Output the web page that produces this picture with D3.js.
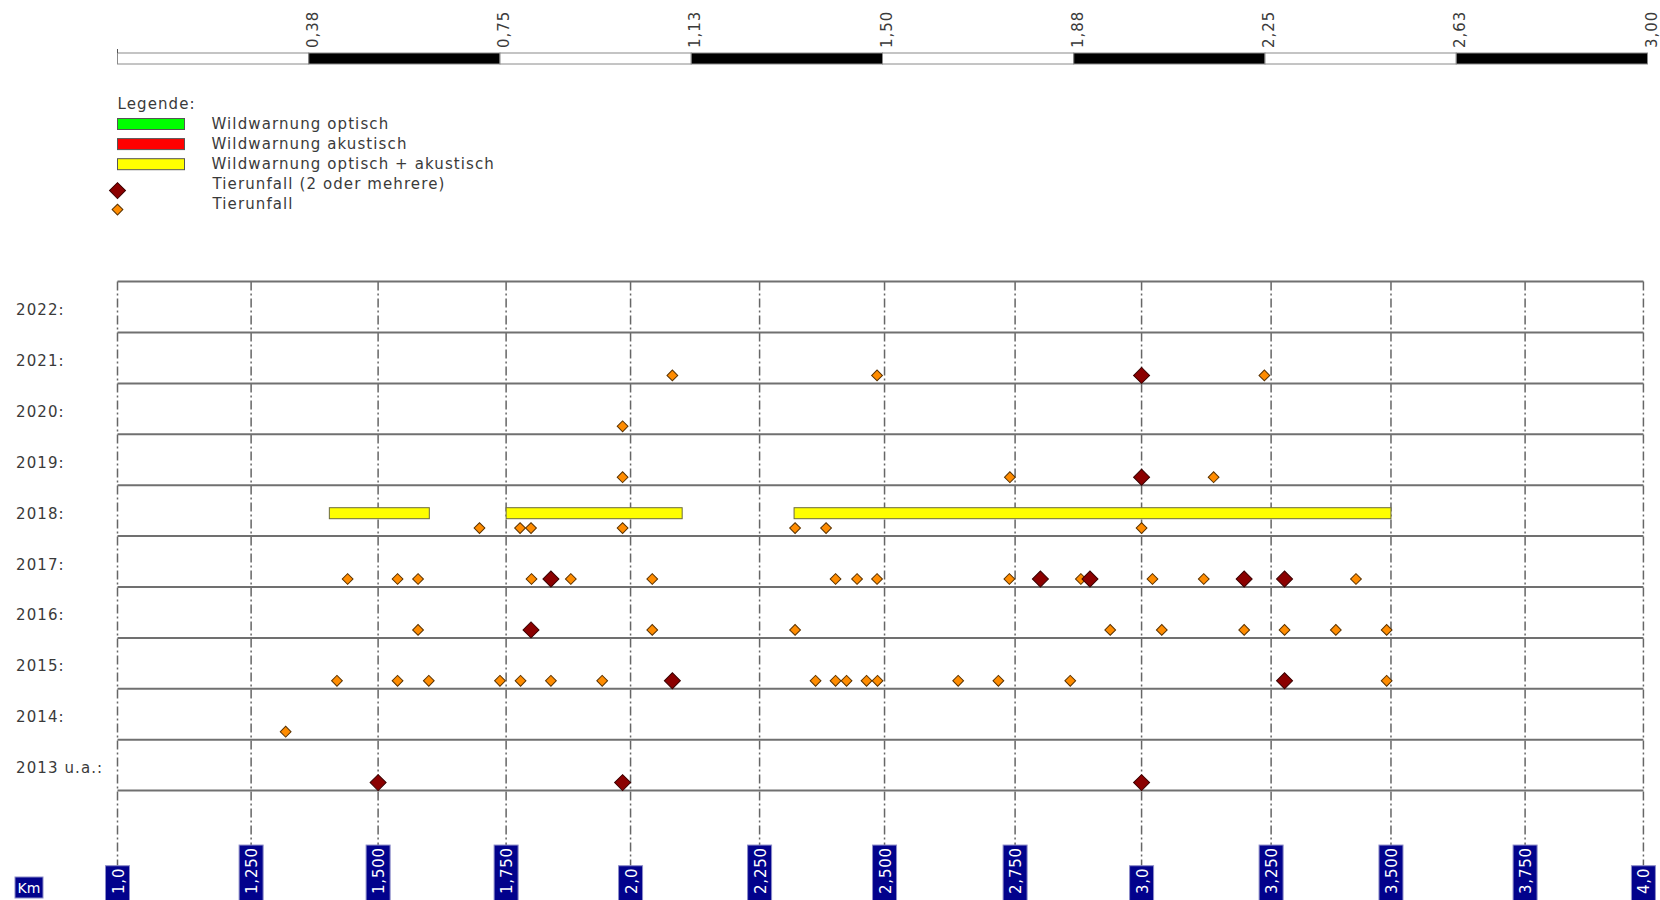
<!DOCTYPE html>
<html>
<head>
<meta charset="utf-8">
<script src="https://cdn.jsdelivr.net/npm/d3@7"></script>
<style>
body { margin: 0; background: #fff; }
svg { display: block; font-family: "DejaVu Sans", Verdana, sans-serif; }
</style>
</head>
<body>
<svg id="chart" width="1660" height="900"></svg>
<script>
// rows (years), top = newest
var years = ["2022", "2021", "2020", "2019", "2018", "2017", "2016", "2015", "2014", "2013 u.a."];

// road km markers and their true distance from the start (km)
var stationKm = [1.0, 1.25, 1.5, 1.75, 2.0, 2.25, 2.5, 2.75, 3.0, 3.25, 3.5, 3.75, 4.0];
var stationDist = [0, 0.262, 0.511, 0.762, 1.006, 1.259, 1.504, 1.760, 2.008, 2.262, 2.497, 2.760, 2.992];
var stationLabels = ["1,0", "1,250", "1,500", "1,750", "2,0", "2,250", "2,500", "2,750", "3,0", "3,250", "3,500", "3,750", "4,0"];

// top scale bar (true distance)
var barTicks = [0, 0.375, 0.75, 1.125, 1.5, 1.875, 2.25, 2.625, 3.0];
var barLabels = ["", "0,38", "0,75", "1,13", "1,50", "1,88", "2,25", "2,63", "3,00"];

// legend
var legendLabels = ["Wildwarnung optisch", "Wildwarnung akustisch", "Wildwarnung optisch + akustisch"];
var legendColors = ["#00ff00", "#ff0000", "#ffff00"];

// warning segments [year, from km, to km, kind]
var warnings = [
	["2018", 1.404, 1.600, 2],
	["2018", 1.750, 2.100, 2],
	["2018", 2.319, 3.500, 2]
];

// single accidents [year, km]
var tierunfall = [
	["2021", 2.081], ["2021", 2.485], ["2021", 3.237],
	["2020", 1.984],
	["2019", 1.984], ["2019", 2.740], ["2019", 3.139],
	["2018", 1.698], ["2018", 1.778], ["2018", 1.800], ["2018", 1.984], ["2018", 2.321], ["2018", 2.383], ["2018", 3.0],
	["2017", 1.440], ["2017", 1.538], ["2017", 1.578], ["2017", 1.801], ["2017", 1.880], ["2017", 2.042], ["2017", 2.402],
	["2017", 2.445], ["2017", 2.485], ["2017", 2.739], ["2017", 2.880], ["2017", 3.021], ["2017", 3.120], ["2017", 3.427],
	["2016", 1.578], ["2016", 2.042], ["2016", 2.321], ["2016", 2.938], ["2016", 3.039], ["2016", 3.198], ["2016", 3.278],
	["2016", 3.385], ["2016", 3.491],
	["2015", 1.419], ["2015", 1.538], ["2015", 1.599], ["2015", 1.738], ["2015", 1.779], ["2015", 1.840], ["2015", 1.943],
	["2015", 2.362], ["2015", 2.402], ["2015", 2.424], ["2015", 2.464], ["2015", 2.486], ["2015", 2.641], ["2015", 2.718],
	["2015", 2.859], ["2015", 3.491],
	["2014", 1.318]
];

// accidents with 2 or more animals [year, km]
var tierunfallMulti = [
	["2021", 3.0],
	["2019", 3.0],
	["2017", 1.840], ["2017", 2.800], ["2017", 2.898], ["2017", 3.198], ["2017", 3.278],
	["2016", 1.800],
	["2015", 2.081], ["2015", 3.278],
	["2013 u.a.", 1.5], ["2013 u.a.", 1.984], ["2013 u.a.", 3.0]
];

var svg = d3.select("#chart");
var textColor = "#3a3a3a";
var gridColor = "#707070";

var dist = d3.scaleLinear().domain([0, 3]).range([117.5, 1647.5]);
// road km -> pixel, through the marker positions
var x = d3.scaleLinear().domain(stationKm).range(stationDist.map(dist));
var y = d3.scaleBand().domain(years).range([281.6, 790.6]);
var gridTop = y.range()[0];

// ---- scale bar
var bar = svg.append("g");
for (var i = 0; i < barTicks.length - 1; i++) {
	bar.append("rect")
		.attr("x", dist(barTicks[i]))
		.attr("y", 53)
		.attr("width", dist(barTicks[i + 1]) - dist(barTicks[i]))
		.attr("height", 11)
		.attr("fill", i % 2 == 0 ? "#fff" : "#000")
		.attr("stroke", "#8a8a8a")
		.attr("stroke-width", 1);
}
bar.append("line")
	.attr("x1", dist(0)).attr("x2", dist(0))
	.attr("y1", 49).attr("y2", 53)
	.attr("stroke", "#555");
bar.selectAll("text.bl")
	.data(barTicks)
	.enter().append("text")
	.attr("class", "bl")
	.attr("transform", function (d) { return "translate(" + (dist(d) + 9) + ",48) rotate(-90)"; })
	.attr("font-size", 15)
	.attr("letter-spacing", 1)
	.attr("fill", textColor)
	.text(function (d, i) { return barLabels[i]; });

// ---- legend
var legend = svg.append("g").attr("fill", textColor).attr("font-size", 15).attr("letter-spacing", 1.1);
legend.append("text").attr("x", 117.5).attr("y", 109).text("Legende:");
legendLabels.forEach(function (label, i) {
	var cy = 124 + i * 20.1;
	legend.append("rect")
		.attr("x", 117.5).attr("y", cy - 5.5)
		.attr("width", 67).attr("height", 11)
		.attr("fill", legendColors[i])
		.attr("stroke", "#555").attr("stroke-width", 1);
	legend.append("text").attr("x", 211.5).attr("y", cy + 5).text(label);
});
legend.append("text").attr("x", 212.5).attr("y", 124 + 3 * 20.1 + 5).text("Tierunfall (2 oder mehrere)");
legend.append("text").attr("x", 212.5).attr("y", 124 + 4 * 20.1 + 5).text("Tierunfall");

var bigDiamond = d3.symbol().type(d3.symbolSquare).size(128);
var smallDiamond = d3.symbol().type(d3.symbolSquare).size(58);
legend.append("path")
	.attr("d", bigDiamond())
	.attr("transform", "translate(117.5,190.6) rotate(45)")
	.attr("fill", "#8b0000").attr("stroke", "#3a0000");
legend.append("path")
	.attr("d", smallDiamond())
	.attr("transform", "translate(117.5,209.6) rotate(45)")
	.attr("fill", "#ff8c00").attr("stroke", "#5a3200");

// ---- year labels
svg.append("g").selectAll("text")
	.data(years)
	.enter().append("text")
	.attr("x", 16)
	.attr("y", function (d) { return y(d) + y.bandwidth() / 2 + 8; })
	.attr("font-size", 15)
	.attr("letter-spacing", 1.1)
	.attr("fill", textColor)
	.text(function (d) { return d + ":"; });

// ---- grid
var vLines = svg.append("g");
var hLines = svg.append("g");
var rowLines = [gridTop].concat(years.map(function (d) { return y(d) + y.bandwidth(); }));
hLines.selectAll("line")
	.data(rowLines)
	.enter().append("line")
	.attr("x1", x(stationKm[0]))
	.attr("x2", x(stationKm[stationKm.length - 1]))
	.attr("y1", function (d) { return d; })
	.attr("y2", function (d) { return d; })
	.attr("stroke", gridColor)
	.attr("stroke-width", 2);

// ---- station labels at bottom
var labels = svg.append("g");
stationKm.forEach(function (km, i) {
	var g = labels.append("g");
	var box = g.append("rect");
	var t = g.append("text")
		.attr("transform", "translate(" + (x(km) + 6) + ",894) rotate(-90)")
		.attr("font-size", 15)
		.attr("letter-spacing", 0.8)
		.attr("fill", "#fff")
		.text(stationLabels[i]);
	var len = t.node().getComputedTextLength();
	var top = 894 - len - 2;
	box.attr("x", x(km) - 12).attr("y", top)
		.attr("width", 24).attr("height", 910 - top)
		.attr("fill", "#02028c")
		.attr("stroke", "#8c8cc8").attr("stroke-width", 1);
	vLines.append("line")
		.attr("x1", x(km)).attr("x2", x(km))
		.attr("y1", gridTop).attr("y2", top)
		.attr("stroke", "#666")
		.attr("stroke-width", 1.5)
		.attr("stroke-dasharray", "9,3,2,3");
});

var km = svg.append("g");
km.append("rect")
	.attr("x", 15).attr("y", 877).attr("width", 28).attr("height", 21)
	.attr("fill", "#02028c").attr("stroke", "#8c8cc8").attr("stroke-width", 1);
km.append("text")
	.attr("x", 29).attr("y", 893)
	.attr("text-anchor", "middle")
	.attr("font-size", 14)
	.attr("fill", "#fff")
	.text("Km");

// ---- warning bars
svg.append("g").selectAll("rect")
	.data(warnings)
	.enter().append("rect")
	.attr("x", function (d) { return x(d[1]); })
	.attr("y", function (d) { return y(d[0]) + 22.5; })
	.attr("width", function (d) { return x(d[2]) - x(d[1]); })
	.attr("height", 11)
	.attr("fill", function (d) { return legendColors[d[3]]; })
	.attr("stroke", "#6b6b40")
	.attr("stroke-width", 1);

// ---- accidents
svg.append("g").selectAll("path")
	.data(tierunfall)
	.enter().append("path")
	.attr("d", smallDiamond())
	.attr("transform", function (d) {
		return "translate(" + x(d[1]) + "," + (y(d[0]) + y.bandwidth() - 8) + ") rotate(45)";
	})
	.attr("fill", "#ff8c00")
	.attr("stroke", "#5a3200")
	.attr("stroke-width", 1);

svg.append("g").selectAll("path")
	.data(tierunfallMulti)
	.enter().append("path")
	.attr("d", bigDiamond())
	.attr("transform", function (d) {
		return "translate(" + x(d[1]) + "," + (y(d[0]) + y.bandwidth() - 8) + ") rotate(45)";
	})
	.attr("fill", "#8b0000")
	.attr("stroke", "#3a0000")
	.attr("stroke-width", 1);
</script>
</body>
</html>
